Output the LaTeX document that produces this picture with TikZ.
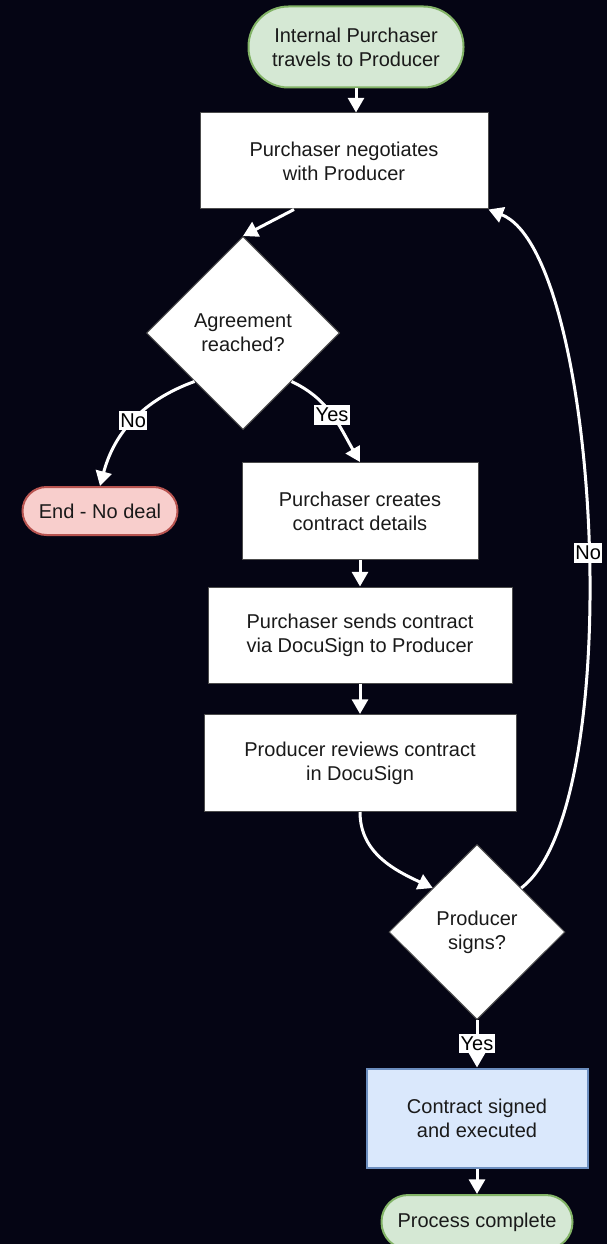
\documentclass[tikz,border=0pt]{standalone}
\usepackage{fontspec}
\setmainfont{Liberation Sans}
\usetikzlibrary{arrows.meta}
\usetikzlibrary{shapes.geometric}
\definecolor{bg}{HTML}{050514}
\definecolor{fg}{HTML}{FFFFFF}
\definecolor{tx}{HTML}{1A1A1A}
\definecolor{gf}{HTML}{D5E8D4}
\definecolor{gs}{HTML}{82B366}
\definecolor{rf}{HTML}{F8CECC}
\definecolor{rs}{HTML}{B85450}
\definecolor{bf}{HTML}{DAE8FC}
\definecolor{bs}{HTML}{6C8EBF}

\tikzset{
  box/.style={draw=black!70, line width=0.75pt, fill=fg, text=tx, align=center,
    inner sep=0pt, font=\fontsize{15pt}{18pt}\selectfont},
  term/.style={box, line width=1.5pt},
  decide/.style={box, diamond, aspect=1},
  flow/.style={draw=fg, line width=2.25pt, -{Triangle[length=11pt, width=12pt]}},
  lbl/.style={fill=fg, text=black, inner xsep=1pt, inner ysep=2pt,
    font=\fontsize{15pt}{17pt}\selectfont}
}

\begin{document}
\begin{tikzpicture}[x=0.75pt, y=0.75pt]

  % Background
  \fill[bg] (0,0) rectangle (607,-1244);
  \useasboundingbox (0,0) rectangle (607,-1244);

  % Start
  \node[term, fill=gf, draw=gs, minimum width=161.25pt, minimum height=60.75pt,
    rounded corners=30pt] (start) at (356,-47) {Internal Purchaser\\travels to Producer};

  % Negotiation
  \node[box, minimum width=216pt, minimum height=72pt] (nego) at (344,-161)
    {Purchaser negotiates\\with Producer};
  \node[decide, minimum width=144.75pt, minimum height=144.75pt] (agree) at (243,-333)
    {Agreement\\reached?};

  % No deal
  \node[term, fill=rf, draw=rs, minimum width=116.25pt, minimum height=36pt,
    rounded corners=18pt] (nodeal) at (100,-511) {End - No deal};

  % Contract
  \node[box, minimum width=177pt, minimum height=72.75pt] (create) at (360,-511)
    {Purchaser creates\\contract details};
  \node[box, minimum width=228pt, minimum height=72pt] (send) at (360,-635)
    {Purchaser sends contract\\via DocuSign to Producer};
  \node[box, minimum width=234pt, minimum height=72.75pt] (review) at (360,-763)
    {Producer reviews contract\\in DocuSign};

  % Signing
  \node[decide, minimum width=132pt, minimum height=131.25pt] (signs) at (477,-932)
    {Producer\\signs?};
  \node[box, fill=bf, draw=bs, line width=1.5pt, minimum width=165.75pt, minimum height=74.25pt]
    (signed) at (477,-1118) {Contract signed\\and executed};
  \node[term, fill=gf, draw=gs, minimum width=143.25pt, minimum height=40.5pt,
    rounded corners=20pt] (done) at (477,-1222) {Process complete};

  % Connectors
  \draw[flow] (start.south) -- (start.south |- nego.north);
  \draw[flow] ([xshift=-37.5pt]nego.south) -- (agree.north);
  \draw[flow] (agree.south west) to[out=200, in=75] node[lbl] {No} (nodeal.north);
  \draw[flow] (agree.south east) to[out=-25, in=120] node[lbl] {Yes} (create.north);
  \draw[flow] (create) -- (send);
  \draw[flow] (send) -- (review);
  \draw[flow] (review.south) to[out=-90, in=155] (signs.north west);
  \draw[flow] (signs.north east) .. controls +(108,82) and +(112,-44) ..
    node[lbl, pos=0.48] {No} (nego.south east);
  \draw[flow] (signs) -- node[lbl] {Yes} (signed);
  \draw[flow] (signed) -- (done);
\end{tikzpicture}
\end{document}
